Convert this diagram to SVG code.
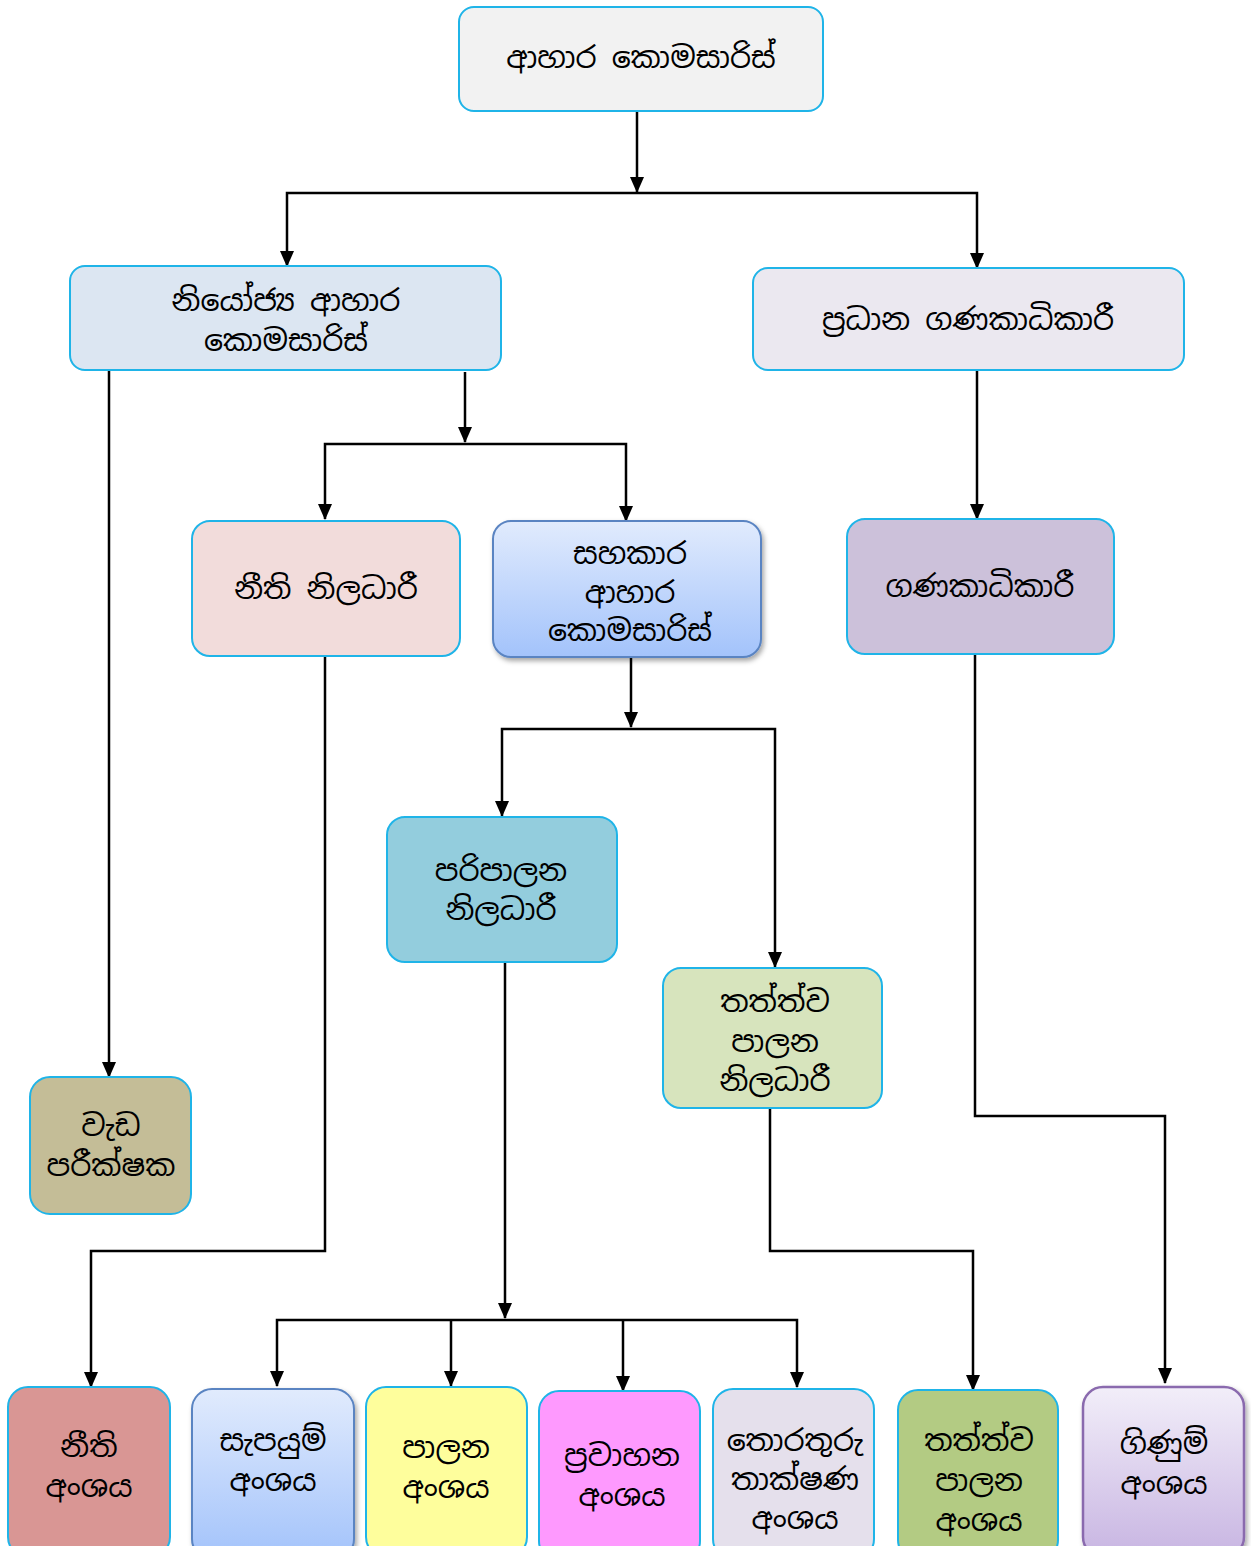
<svg xmlns="http://www.w3.org/2000/svg" width="1251" height="1546" viewBox="0 0 1251 1546">
<style>
.n{stroke:#1fb4e8;stroke-width:2}
.blue{stroke:#5a84c2;stroke-width:2}
.purp{stroke:#8a6aae;stroke-width:2.5}
.t{font-family:"Noto Sans Sinhala","Iskoola Pota","Noto Sans","DejaVu Sans",sans-serif;font-size:30px;fill:#000;text-anchor:middle}
.c{fill:none;stroke:#000;stroke-width:2.5}
</style>
<defs>
<marker id="ar" markerUnits="userSpaceOnUse" markerWidth="16" markerHeight="14" viewBox="0 0 16 14" refX="15" refY="7" orient="auto-start-reverse">
<path d="M0,0 L16,7 L0,14 Z" fill="#000"/>
</marker>
<linearGradient id="gb" x1="0" y1="0" x2="0" y2="1">
<stop offset="0" stop-color="#e1ebfd"/>
<stop offset="1" stop-color="#a3c3fb"/>
</linearGradient>
<linearGradient id="gp" x1="0" y1="0" x2="0" y2="1">
<stop offset="0" stop-color="#f2eef9"/>
<stop offset="1" stop-color="#c8b5e2"/>
</linearGradient>
<filter id="sh" x="-10%" y="-10%" width="125%" height="125%">
<feDropShadow dx="2" dy="3" stdDeviation="2.5" flood-color="#000" flood-opacity="0.35"/>
</filter>
</defs>

<g id="connectors">
<path class="c" d="M637,111 V192" marker-end="url(#ar)"/>
<path class="c" d="M287,266 V193 H977 V268" marker-start="url(#ar)" marker-end="url(#ar)"/>
<path class="c" d="M465,372 V442" marker-end="url(#ar)"/>
<path class="c" d="M325,519 V444 H626 V521" marker-start="url(#ar)" marker-end="url(#ar)"/>
<path class="c" d="M109,370 V1077" marker-end="url(#ar)"/>
<path class="c" d="M977,370 V519" marker-end="url(#ar)"/>
<path class="c" d="M975,654 V1116 H1165 V1383" marker-end="url(#ar)"/>
<path class="c" d="M631,657 V727" marker-end="url(#ar)"/>
<path class="c" d="M502,816 V729 H775 V967" marker-start="url(#ar)" marker-end="url(#ar)"/>
<path class="c" d="M325,656 V1251 H91 V1387" marker-end="url(#ar)"/>
<path class="c" d="M505,962 V1318" marker-end="url(#ar)"/>
<path class="c" d="M277,1386 V1320 H797 V1387" marker-start="url(#ar)" marker-end="url(#ar)"/>
<path class="c" d="M451,1320 V1386" marker-end="url(#ar)"/>
<path class="c" d="M623,1320 V1391" marker-end="url(#ar)"/>
<path class="c" d="M770,1108 V1251 H973 V1390" marker-end="url(#ar)"/>
</g>

<g id="n-commissioner">
<rect class="n" x="459" y="7" width="364" height="104" rx="15" fill="#f2f2f2"/>
<text class="t" x="641" y="68">ආහාර කොමසාරිස්</text>
</g>
<g id="n-deputy">
<rect class="n" x="70" y="266" width="431" height="104" rx="15" fill="#dce6f2"/>
<text class="t" x="286" y="311">නියෝජ්‍ය ආහාර</text>
<text class="t" x="286" y="351">කොමසාරිස්</text>
</g>
<g id="n-chief-accountant">
<rect class="n" x="753" y="268" width="431" height="102" rx="15" fill="#ebe8f0"/>
<text class="t" x="968" y="330">ප්‍රධාන ගණකාධිකාරී</text>
</g>
<g id="n-legal-officer">
<rect class="n" x="192" y="521" width="268" height="135" rx="18" fill="#f2dcdb"/>
<text class="t" x="326" y="599">නීති නිලධාරී</text>
</g>
<g id="n-assistant">
<rect class="blue" x="493" y="521" width="268" height="136" rx="18" fill="url(#gb)" filter="url(#sh)"/>
<text class="t" x="630" y="564">සහකාර</text>
<text class="t" x="630" y="603">ආහාර</text>
<text class="t" x="630" y="641">කොමසාරිස්</text>
</g>
<g id="n-accountant">
<rect class="n" x="847" y="519" width="267" height="135" rx="18" fill="#ccc1da"/>
<text class="t" x="980" y="597">ගණකාධිකාරී</text>
</g>
<g id="n-admin">
<rect class="n" x="387" y="817" width="230" height="145" rx="18" fill="#93cddd"/>
<text class="t" x="501" y="881">පරිපාලන</text>
<text class="t" x="501" y="920">නිලධාරී</text>
</g>
<g id="n-qc-officer">
<rect class="n" x="663" y="968" width="219" height="140" rx="18" fill="#d7e4bd"/>
<text class="t" x="775" y="1012">තත්ත්ව</text>
<text class="t" x="775" y="1052">පාලන</text>
<text class="t" x="775" y="1091">නිලධාරී</text>
</g>
<g id="n-works">
<rect class="n" x="30" y="1077" width="161" height="137" rx="20" fill="#c4bd97"/>
<text class="t" x="111" y="1136">වැඩ</text>
<text class="t" x="111" y="1176">පරීක්ෂක</text>
</g>
<g id="n-legal-div">
<rect class="n" x="8" y="1387" width="162" height="170" rx="20" fill="#d99694"/>
<text class="t" x="89" y="1457">නීති</text>
<text class="t" x="89" y="1497">අංශය</text>
</g>
<g id="n-supply-div">
<rect class="blue" x="192" y="1389" width="162" height="170" rx="20" fill="url(#gb)" filter="url(#sh)"/>
<text class="t" x="273" y="1451">සැපයුම්</text>
<text class="t" x="273" y="1491">අංශය</text>
</g>
<g id="n-control-div">
<rect class="n" x="366" y="1387" width="161" height="170" rx="20" fill="#fefe9c"/>
<text class="t" x="446" y="1458">පාලන</text>
<text class="t" x="446" y="1498">අංශය</text>
</g>
<g id="n-transport-div">
<rect class="n" x="539" y="1391" width="161" height="170" rx="20" fill="#fe99fe"/>
<text class="t" x="622" y="1466">ප්‍රවාහන</text>
<text class="t" x="622" y="1506">අංශය</text>
</g>
<g id="n-it-div">
<rect class="n" x="713" y="1389" width="161" height="170" rx="20" fill="#e5e0ec"/>
<text class="t" x="795" y="1451">තොරතුරු</text>
<text class="t" x="795" y="1490">තාක්ෂණ</text>
<text class="t" x="795" y="1529">අංශය</text>
</g>
<g id="n-qc-div">
<rect class="n" x="898" y="1390" width="160" height="170" rx="20" fill="#b3cb83"/>
<text class="t" x="979" y="1451">තත්ත්ව</text>
<text class="t" x="979" y="1491">පාලන</text>
<text class="t" x="979" y="1531">අංශය</text>
</g>
<g id="n-accounts-div">
<rect class="purp" x="1083" y="1387" width="161" height="170" rx="20" fill="url(#gp)" filter="url(#sh)"/>
<text class="t" x="1164" y="1454">ගිණුම්</text>
<text class="t" x="1164" y="1494">අංශය</text>
</g>
</svg>
